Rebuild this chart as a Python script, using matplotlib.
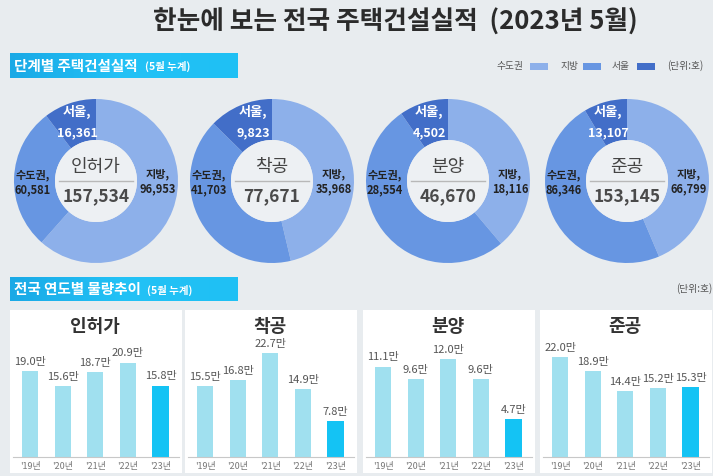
import matplotlib
matplotlib.use('Agg')
import matplotlib.pyplot as plt
import numpy as np
from matplotlib.patches import Circle, Rectangle
from matplotlib.colors import LinearSegmentedColormap

plt.rcParams['font.family'] = ['Noto Sans CJK KR', 'DejaVu Sans']

# ---------------- data ----------------
stages = ['인허가', '착공', '분양', '준공']
totals = [157534, 77671, 46670, 153145]
capital = [60581, 41703, 28554, 86346]   # 수도권
seoul = [16361, 9823, 4502, 13107]       # 서울 (part of 수도권)
local = [96953, 35968, 18116, 66799]     # 지방

years = ["'19년", "'20년", "'21년", "'22년", "'23년"]
permit_yearly = [19.0, 15.6, 18.7, 20.9, 15.8]
start_yearly = [15.5, 16.8, 22.7, 14.9, 7.8]
sale_yearly = [11.1, 9.6, 12.0, 9.6, 4.7]
complete_yearly = [22.0, 18.9, 14.4, 15.2, 15.3]
yearly_series = [permit_yearly, start_yearly, sale_yearly, complete_yearly]

legend_labels = ['수도권', '지방', '서울']

# ---------------- style ----------------
BG = '#e8ecef'
C_LIGHT = '#8db0ea'
C_MED = '#6796e2'
C_DARK = '#426ec8'
BAR_LIGHT = '#a0e0ef'
BAR_HI = '#14c3f4'

W, H = 713, 476
fig = plt.figure(figsize=(W / 100, H / 100), dpi=100)
fig.patch.set_facecolor(BG)


def px_ax(x0, y0, w, h, **kw):
    return fig.add_axes([x0 / W, 1 - (y0 + h) / H, w / W, h / H], **kw)


def T(x, y, s, **kw):
    kw.setdefault('ha', 'center')
    kw.setdefault('va', 'center')
    return fig.text(x / W, 1 - y / H, s, **kw)


# title
T(395, 22, '한눈에 보는 전국 주택건설실적  (2023년 5월)', fontsize=18.5,
  fontweight='bold', color='#2b2b2b')

# gradient header boxes
cmap = LinearSegmentedColormap.from_list('hdr', ['#1aa9e6', '#23c2f6', '#1fc0f4'])


def header(y0, h, main, sub, x_sub):
    ax = px_ax(10, y0, 228, h)
    ax.imshow(np.linspace(0, 1, 256)[None, :], aspect='auto', cmap=cmap,
              extent=(0, 1, 0, 1))
    ax.set_axis_off()
    T(14, y0 + h / 2, main, ha='left', fontsize=10.5, fontweight='bold', color='white')
    T(x_sub, y0 + h / 2 + 1, sub, ha='left', fontsize=7.5, fontweight='bold', color='white')


header(53, 25, '단계별 주택건설실적', '(5월 누계)', 145)
header(277, 24, '전국 연도별 물량추이', '(5월 누계)', 147)

# legend top-right
leg_colors = [C_LIGHT, C_MED, C_DARK]
leg_text_x = [510, 570, 621]
leg_sq_x = [530, 583, 637]
for lab, tx, sx, c in zip(legend_labels, leg_text_x, leg_sq_x, leg_colors):
    T(tx, 66, lab, fontsize=7, color='#555555')
    fig.patches.append(Rectangle((sx / W, 1 - 69.5 / H), 18 / W, 7 / H,
                                 transform=fig.transFigure, facecolor=c,
                                 edgecolor='none'))
T(685, 66, '(단위:호)', fontsize=7, color='#555555')
T(712, 289, '(단위:호)', ha='right', fontsize=7, color='#555555')

# ---------------- donuts ----------------
centers_x = [96, 272, 448, 627]
cy = 181
R = 82
for i, cx in enumerate(centers_x):
    ax = px_ax(cx - R, cy - R, 2 * R, 2 * R)
    vals = [local[i], capital[i] - seoul[i], seoul[i]]
    ax.pie(vals, colors=[C_LIGHT, C_MED, C_DARK], startangle=90,
           counterclock=False, radius=1.0,
           wedgeprops=dict(width=0.5, linewidth=0))
    ax.add_patch(Circle((0, 0), 0.5, facecolor='#edf0f3', edgecolor='none'))
    ax.plot([-0.45, 0.45], [-0.0, -0.0], color='#b8b8b8', lw=1)
    ax.set_xlim(-1, 1)
    ax.set_ylim(-1, 1)
    ax.set_aspect('equal')
    ax.set_axis_off()

    T(cx, 167, stages[i], fontsize=13, color='#444444')
    T(cx, 196, f'{totals[i]:,}', fontsize=12.5, fontweight='bold', color='#4a4a4a')
    T(cx - 19, 112, '서울,', fontsize=9.5, fontweight='bold', color='white')
    T(cx - 19, 133, f'{seoul[i]:,}', fontsize=9, fontweight='bold', color='white')
    T(cx - 63, 175, '수도권,', fontsize=8, fontweight='bold', color='#222222')
    T(cx - 63, 190, f'{capital[i]:,}', fontsize=8, fontweight='bold', color='#222222')
    T(cx + 62, 174, '지방,', fontsize=8, fontweight='bold', color='#222222')
    T(cx + 62, 189, f'{local[i]:,}', fontsize=8, fontweight='bold', color='#222222')

# ---------------- bar panels ----------------
panel_x = [10, 185, 363, 540]
panel_w = 172
p_top, p_bot = 310, 473
base_y = 457
ppu_list = [4.52, 4.57, 8.15, 4.55]   # pixels per unit (each panel has its own scale)
for i, (px, vals) in enumerate(zip(panel_x, yearly_series)):
    ppu = ppu_list[i]
    ax = px_ax(px, p_top, panel_w, p_bot - p_top)
    ax.set_facecolor('white')
    x = np.arange(len(vals))
    cols = [BAR_LIGHT] * (len(vals) - 1) + [BAR_HI]
    ax.bar(x, vals, width=0.5, color=cols, zorder=2)
    ax.set_xlim(-0.62, 4.66)
    ax.set_ylim(-(p_bot - base_y) / ppu, (base_y - p_top) / ppu)
    ax.axhline(0, xmin=0.02, xmax=0.98, color='#c8c8c8', lw=0.8, zorder=3)
    for xi, v in zip(x, vals):
        ax.annotate(f'{v:.1f}만', (xi, v), xytext=(0, 3), textcoords='offset points',
                    ha='center', va='bottom', fontsize=8, color='#555555')
    for xi, yl in zip(x, years):
        ax.text(xi, -9 / ppu, yl, ha='center', va='center', fontsize=6.5, color='#777777')
    ax.text(2, (base_y - 327) / ppu, stages[i], ha='center', va='center',
            fontsize=13, fontweight='bold', color='#333333')
    for s in ax.spines.values():
        s.set_visible(False)
    ax.set_xticks([])
    ax.set_yticks([])

fig.savefig('out.png', dpi=100, facecolor=BG)
